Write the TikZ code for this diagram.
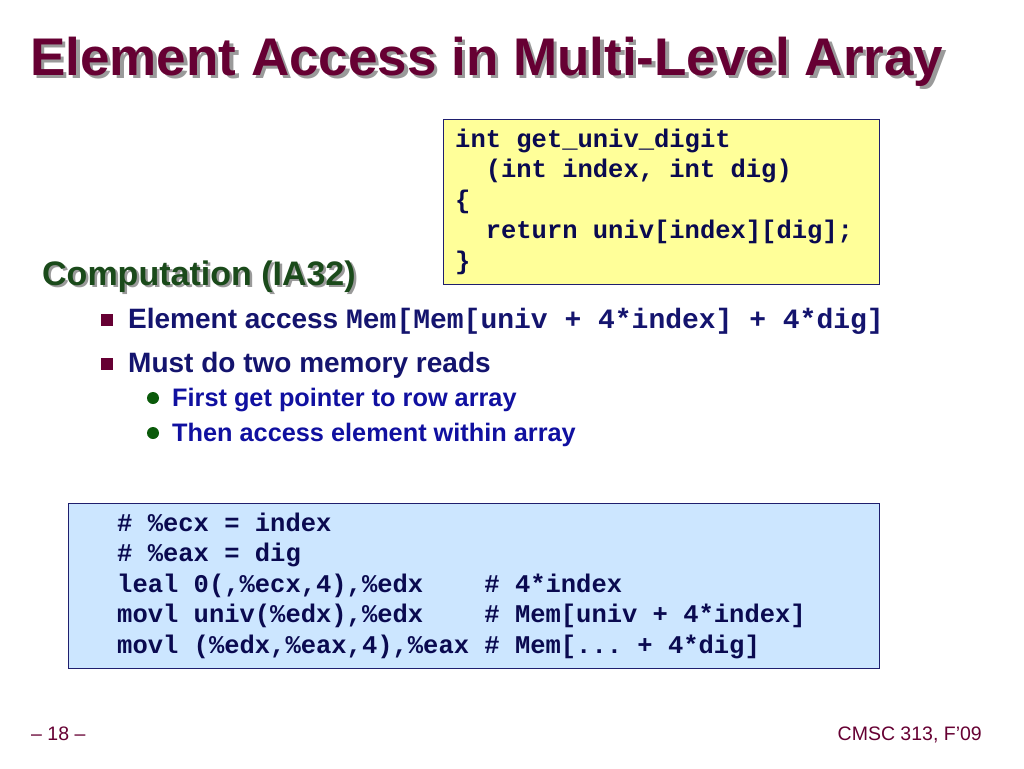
\documentclass[tikz,border=0pt]{standalone}
\usepackage{fontspec}
\setmainfont{Liberation Sans}
\setmonofont{Liberation Mono}
\definecolor{maroon}{HTML}{660033}
\definecolor{shadowgray}{HTML}{9A9A9A}
\definecolor{darkgreen}{HTML}{1A4A1A}
\definecolor{dotgreen}{HTML}{0A5A0A}
\definecolor{navytext}{HTML}{14146E}
\definecolor{subblue}{HTML}{1010A0}
\definecolor{codetext}{HTML}{0A0A50}
\definecolor{boxborder}{HTML}{1F1F6E}
\definecolor{yellowfill}{HTML}{FFFF99}
\definecolor{bluefill}{HTML}{CCE6FF}
\begin{document}
\begin{tikzpicture}[x=1pt,y=-1pt,
  txt/.style={inner sep=0pt,anchor=base west},
  titletxt/.style={txt,font=\fontsize{53}{60}\selectfont\bfseries},
  headtxt/.style={txt,font=\fontsize{34}{40}\selectfont\bfseries},
  bullettxt/.style={txt,text=navytext,font=\fontsize{28}{32}\selectfont\bfseries},
  subtxt/.style={txt,text=subblue,font=\fontsize{25.3}{30}\selectfont\bfseries},
  codeline/.style={txt,text=codetext,font=\fontsize{25.5}{30}\selectfont\ttfamily\bfseries},
  codebox/.style={draw=boxborder,line width=1.3pt,inner sep=0pt,anchor=north west},
  sqbullet/.style={fill=maroon,draw=none,minimum size=12pt,inner sep=0pt},
  dotbullet/.style={fill=dotgreen,draw=none,circle,minimum size=12pt,inner sep=0pt},
  foot/.style={txt,text=maroon,font=\fontsize{19.5}{22}\selectfont}
]
\useasboundingbox (0,0) rectangle (1024,768);
\fill[white] (0,0) rectangle (1024,768);

% title
\node[titletxt,text=shadowgray] (titleshadow) at (33.5,78.5) {Element Access in Multi-Level Array};
\node[titletxt,text=maroon] (title) at (30,75) {Element Access in Multi-Level Array};

% C code box
\node[codebox,fill=yellowfill,minimum width=436pt,minimum height=165pt] (cbox) at (443,119) {};
\node[codeline] (c1) at (455,147) {int get\_univ\_digit};
\node[codeline] (c2) at (455,177.5) {\ \ (int index, int dig)};
\node[codeline] (c3) at (455,208) {\{};
\node[codeline] (c4) at (455,238.5) {\ \ return univ[index][dig];};
\node[codeline] (c5) at (455,269) {\}};

% heading
\node[headtxt,text=shadowgray] (headshadow) at (44.5,287.5) {Computation (IA32)};
\node[headtxt,text=darkgreen] (head) at (42,285) {Computation (IA32)};

% bullets
\node[sqbullet] (sq1) at (107,320) {};
\node[bullettxt] (b1) at (128,328) {Element access {\ttfamily Mem[Mem[univ + 4*index] + 4*dig]}};
\node[sqbullet] (sq2) at (107,364) {};
\node[bullettxt] (b2) at (128,372) {Must do two memory reads};
\node[dotbullet] (d1) at (153,398) {};
\node[subtxt] (s1) at (172,406) {First get pointer to row array};
\node[dotbullet] (d2) at (153,433) {};
\node[subtxt] (s2) at (172,441) {Then access element within array};

% assembly box
\node[codebox,fill=bluefill,minimum width=811pt,minimum height=165pt] (abox) at (68,503) {};
\node[codeline] (a1) at (117,531) {\# \%ecx = index};
\node[codeline] (a2) at (117,561.5) {\# \%eax = dig};
\node[codeline] (a3) at (117,592) {leal 0(,\%ecx,4),\%edx\ \ \ \ \# 4*index};
\node[codeline] (a4) at (117,622.5) {movl univ(\%edx),\%edx\ \ \ \ \# Mem[univ + 4*index]};
\node[codeline] (a5) at (117,653) {movl (\%edx,\%eax,4),\%eax \# Mem[... + 4*dig]};

% footer
\node[foot] (pagenum) at (31,740) {– 18 –};
\node[foot,anchor=base east] (course) at (982,740) {CMSC 313, F’09};
\end{tikzpicture}
\end{document}
